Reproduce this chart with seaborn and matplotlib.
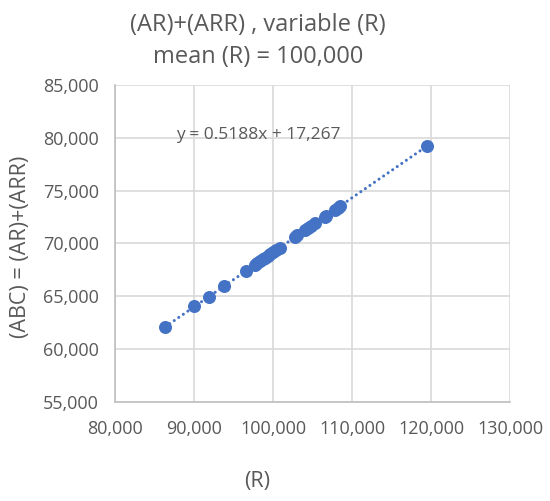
import numpy as np
import pandas as pd
import matplotlib
matplotlib.use("Agg")
import matplotlib.pyplot as plt
import seaborn as sns
from matplotlib.ticker import FuncFormatter, MultipleLocator

R = [86300, 90000, 91800, 93800, 96500, 97700, 98000, 98300, 98700, 99000,
     99300, 99600, 100000, 100400, 100800, 102700, 103000, 104000, 104400,
     104800, 105300, 106500, 106700, 107800, 108200, 108500, 119500]
ABC = [62040, 64060, 64880, 65980, 67400, 67980, 68100, 68300, 68500, 68640,
       68800, 68950, 69200, 69400, 69560, 70560, 70750, 71240, 71450,
       71660, 71900, 72520, 72600, 73200, 73380, 73500, 79240]

title_lines = ["(AR)+(ARR) , variable (R)", "mean (R) = 100,000"]
x_label = "(R)"
y_label = "(ABC) = (AR)+(ARR)"
equation = "y = 0.5188x + 17,267"

df = pd.DataFrame({"R": R, "ABC": ABC})

sns.set_theme(style="white")
plt.rcParams["font.family"] = ["Open Sans", "DejaVu Sans"]

TXT = "#595959"
BLUE = "#4472C4"

fig = plt.figure(figsize=(5.5, 5.01), dpi=100)
ax = fig.add_axes([0.2098, 0.1982, 0.7175, 0.632])

sns.regplot(data=df, x="R", y="ABC", ax=ax, ci=None,
            scatter_kws=dict(s=88, color=BLUE, alpha=1, linewidths=0, zorder=3),
            line_kws=dict(color=BLUE, lw=2.2, linestyle=(0, (0.01, 1.8)),
                          dash_capstyle="round", solid_capstyle="round", zorder=2))

ax.set_xlim(80000, 130000)
ax.set_ylim(55000, 85000)
ax.xaxis.set_major_locator(MultipleLocator(10000))
ax.yaxis.set_major_locator(MultipleLocator(5000))
fmt = FuncFormatter(lambda v, p: f"{int(v):,}")
ax.xaxis.set_major_formatter(fmt)
ax.yaxis.set_major_formatter(fmt)

ax.grid(True, color="#d9d9d9", lw=1.2)
ax.set_axisbelow(True)
for s in ["top", "right"]:
    ax.spines[s].set_visible(False)
for s in ["left", "bottom"]:
    ax.spines[s].set_color("#bfbfbf")
    ax.spines[s].set_linewidth(1.2)

ax.tick_params(axis="both", which="major", direction="out", length=5,
               width=1.2, color="#bfbfbf", labelsize=13, labelcolor=TXT, pad=7)
ax.tick_params(axis="x", pad=8)

ax.set_xlabel("")
ax.set_ylabel("")
fig.text(257.5 / 550, 1 - 481.7 / 501, x_label, ha="center", va="center",
         fontsize=15.5, color=TXT)
fig.text(21 / 550, 1 - 246.5 / 501, y_label, ha="center", va="center",
         rotation=90, fontsize=15.5, color=TXT)
fig.text(257.7 / 550, 1 - 25 / 501, title_lines[0], ha="center", va="center",
         fontsize=17, color=TXT)
fig.text(257.7 / 550, 1 - 57 / 501, title_lines[1], ha="center", va="center",
         fontsize=17, color=TXT)
fig.text(258 / 550, 1 - 135 / 501, equation, ha="center", va="center",
         fontsize=12.5, color=TXT)

fig.savefig("out.png", dpi=100, facecolor="white")
